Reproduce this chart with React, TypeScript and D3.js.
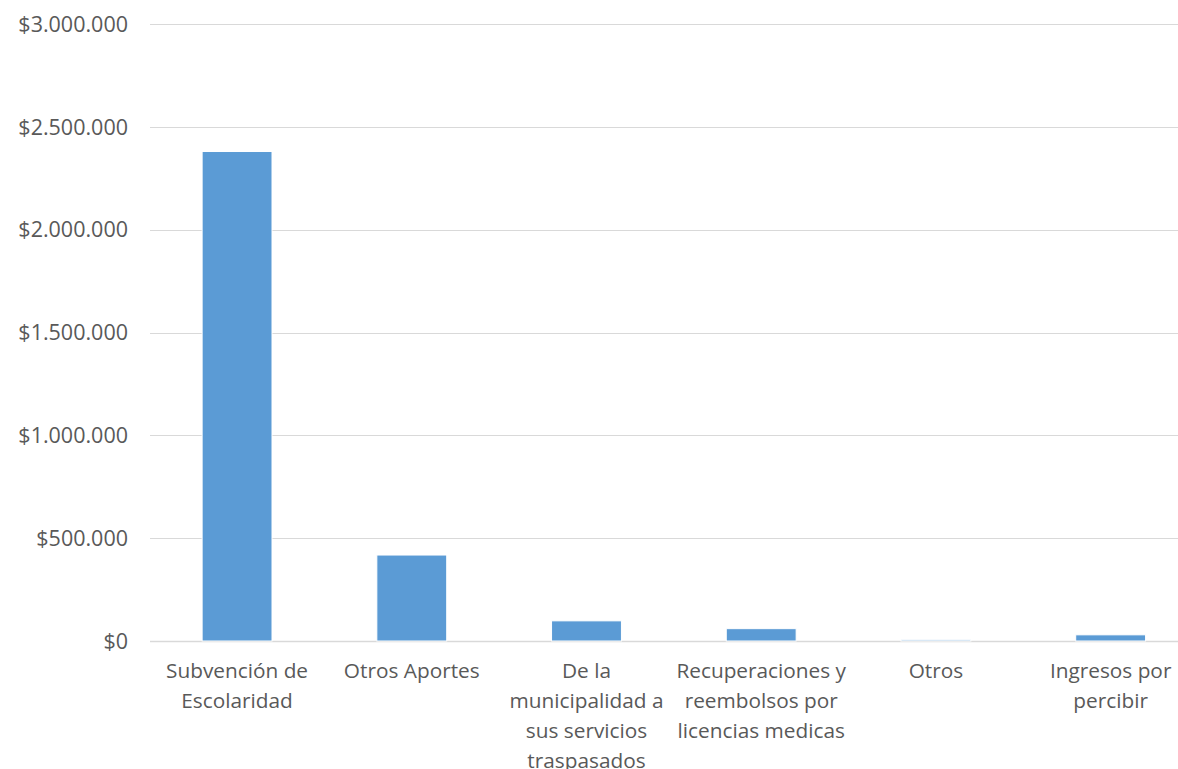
import React, { useRef, useEffect } from 'react';
import * as d3 from 'd3';

const categories: string[][] = [
  ['Subvención de', 'Escolaridad'],
  ['Otros Aportes'],
  ['De la', 'municipalidad a', 'sus servicios', 'traspasados'],
  ['Recuperaciones y', 'reembolsos por', 'licencias medicas'],
  ['Otros'],
  ['Ingresos por', 'percibir'],
];

const values: number[] = [2380000, 418000, 98000, 60000, 6000, 30000];

const yTicks: number[] = [0, 500000, 1000000, 1500000, 2000000, 2500000, 3000000];

const fmt = (v: number) => '$' + d3.format(',')(v).replace(/,/g, '.');

const App: React.FC = () => {
  const svgRef = useRef<SVGSVGElement>(null);
  const width = 1178;
  const height = 769;

  useEffect(() => {
    if (!svgRef.current) return;
    const svg = d3.select(svgRef.current);
    svg.selectAll('*').remove();

    const keys = categories.map(c => c.join(' '));
    const x = d3.scaleBand()
      .domain(keys)
      .range([149.7, 1198])
      .paddingInner(0.6)
      .paddingOuter(0.3);

    const y = d3.scaleLinear()
      .domain([0, 3000000])
      .range([641, 24]);

    // gridlines
    svg.append('g')
      .selectAll('line')
      .data(yTicks)
      .enter()
      .append('line')
      .attr('x1', 150)
      .attr('x2', width)
      .attr('y1', d => Math.round(y(d)) + 0.5)
      .attr('y2', d => Math.round(y(d)) + 0.5)
      .attr('stroke', '#d9d9d9')
      .attr('stroke-width', d => (d === 0 ? 1.5 : 1));

    // y labels
    svg.append('g')
      .selectAll('text')
      .data(yTicks)
      .enter()
      .append('text')
      .attr('x', 128)
      .attr('y', d => y(d))
      .attr('dy', '0.36em')
      .attr('text-anchor', 'end')
      .attr('fill', '#595959')
      .attr('font-size', 21.5)
      .text(d => fmt(d));

    // bars
    svg.append('g')
      .selectAll('rect')
      .data(values)
      .enter()
      .append('rect')
      .attr('x', (d, i) => x(keys[i]) || 0)
      .attr('y', d => y(d))
      .attr('width', x.bandwidth())
      .attr('height', d => y(0) - y(d))
      .attr('fill', '#5b9bd5')
      .attr('stroke', '#ffffff')
      .attr('stroke-width', 1);

    // category labels
    const lab = svg.append('g');
    categories.forEach((lines, i) => {
      const cx = (x(keys[i]) || 0) + x.bandwidth() / 2;
      const t = lab.append('text')
        .attr('text-anchor', 'middle')
        .attr('fill', '#595959')
        .attr('font-size', 20.8);
      lines.forEach((ln, j) => {
        t.append('tspan')
          .attr('x', cx)
          .attr('y', 678 + j * 30)
          .text(ln);
      });
    });
  }, []);

  return (
    <svg
      ref={svgRef}
      width={width}
      height={height}
      style={{ position: 'absolute', left: 0, top: 0, background: '#ffffff', fontFamily: '"Open Sans", sans-serif' }}
    />
  );
};

export default App;
